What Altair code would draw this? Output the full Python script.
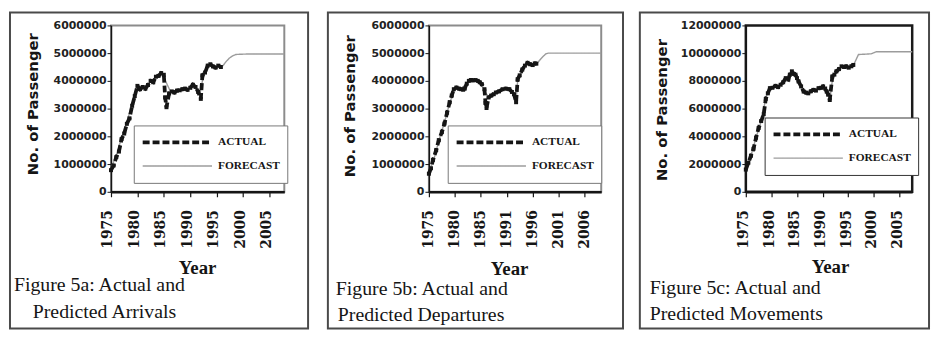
import json
import altair as alt
import pandas as pd

# ---------------- data (values in millions of passengers) ----------------
series_names = ["ACTUAL", "FORECAST"]

# Figure 5a - arrivals
arr_act_year = [1975.0, 1975.5, 1976.0, 1976.5, 1977.0, 1977.5, 1978.0, 1978.5, 1979.0, 1979.5,
                1980.0, 1980.5, 1981.0, 1981.5, 1982.0, 1982.5, 1983.0, 1983.5, 1984.0, 1984.5,
                1985.0, 1985.25, 1985.5,
                1986.0, 1986.5, 1987.0, 1987.5, 1988.0, 1988.5, 1989.0, 1989.5, 1990.0, 1990.5,
                1991.0, 1991.5, 1992.0,
                1992.3, 1992.8, 1993.3, 1993.8, 1994.3, 1994.8, 1995.3, 1995.8]
arr_act_mil = [0.78, 0.95, 1.25, 1.45, 1.9, 2.1, 2.45, 2.65, 3.1, 3.45,
               3.82, 3.7, 3.78, 3.72, 3.85, 4.0, 3.95, 4.15, 4.18, 4.28,
               4.22, 3.4, 3.05,
               3.55, 3.62, 3.58, 3.65, 3.66, 3.7, 3.72, 3.68, 3.75, 3.86,
               3.78, 3.6, 3.35,
               4.2, 4.3, 4.55, 4.6, 4.52, 4.48, 4.55, 4.5]
arr_fc_year = [1975.0, 1976.0, 1977.0, 1978.0, 1979.0, 1980.0, 1981.0, 1982.0, 1983.0, 1984.0,
               1984.6, 1985.3, 1986.3, 1987.0, 1988.0, 1989.0, 1990.0, 1991.0, 1991.8, 1992.5,
               1993.5, 1994.5, 1995.5, 1996.2, 1996.8, 1997.4, 1998.0, 1998.6, 1999.5, 2001.0,
               2007.8]
arr_fc_mil = [0.85, 1.3, 1.95, 2.5, 3.2, 3.75, 3.75, 3.9, 4.05, 4.2,
              4.3, 4.0, 3.6, 3.62, 3.67, 3.7, 3.74, 3.82, 3.5, 4.2,
              4.55, 4.5, 4.5, 4.55, 4.7, 4.82, 4.9, 4.95, 4.96, 4.97,
              4.97]

# Figure 5b - departures
dep_act_year = [1975.0, 1975.4, 1975.8, 1976.4, 1976.9, 1977.5, 1978.0, 1978.5, 1979.0, 1979.4,
                1979.8, 1980.3, 1980.8, 1981.2, 1981.6, 1981.9, 1982.3, 1982.7, 1983.1, 1983.5,
                1984.0, 1984.4, 1984.8, 1985.2, 1985.7, 1985.9, 1986.1, 1986.5, 1987.0, 1987.5,
                1987.9, 1988.5, 1989.2, 1989.8, 1990.5, 1991.0, 1991.4, 1991.8, 1992.1, 1992.5,
                1993.0, 1993.5, 1994.0, 1994.5, 1995.0, 1995.4, 1995.7]
dep_act_mil = [0.65, 0.85, 1.15, 1.5, 1.86, 2.15, 2.46, 2.85, 3.23, 3.47,
               3.7, 3.76, 3.72, 3.7, 3.68, 3.72, 3.9, 4.0, 4.03, 4.02,
               4.03, 4.0, 3.95, 3.88, 3.7, 3.2, 3.02, 3.4, 3.47, 3.52,
               3.58, 3.62, 3.7, 3.72, 3.7, 3.6, 3.52, 3.23, 4.06, 4.2,
               4.41, 4.55, 4.65, 4.6, 4.57, 4.63, 4.62]
dep_fc_year = [1975.0, 1976.0, 1977.0, 1978.0, 1979.0, 1980.0, 1981.0, 1982.0, 1983.0, 1984.0,
               1985.0, 1985.8, 1986.5, 1987.5, 1988.5, 1989.5, 1990.5, 1991.4, 1991.8, 1992.1,
               1993.0, 1994.0, 1995.0, 1995.8, 1996.5, 1997.0, 1997.5, 1998.0, 2008.2]
dep_fc_mil = [0.7, 1.2, 1.9, 2.5, 3.2, 3.72, 3.7, 3.85, 4.0, 4.0,
              3.9, 3.6, 3.42, 3.52, 3.62, 3.7, 3.7, 3.5, 3.3, 4.0,
              4.4, 4.62, 4.58, 4.62, 4.78, 4.88, 4.97, 5.0, 5.0]

# Figure 5c - movements
mov_act_year = [1975.0, 1975.5, 1976.0, 1976.5, 1977.0, 1977.5, 1978.0, 1978.5, 1978.9, 1979.3,
                1979.7, 1980.2, 1980.8, 1981.3, 1981.8, 1982.3, 1982.8, 1983.3, 1983.6, 1984.0,
                1984.4, 1984.7, 1985.0, 1985.3, 1985.8, 1986.3, 1986.8, 1987.2, 1987.7, 1988.2,
                1988.7, 1989.2, 1989.7, 1990.1, 1990.5, 1990.8, 1991.1, 1991.4, 1991.9, 1992.3,
                1992.7, 1993.2, 1993.7, 1994.2, 1994.6, 1995.1, 1995.6, 1996.0]
mov_act_mil = [1.6, 2.1, 2.6, 3.1, 3.9, 4.6, 5.1, 5.6, 6.7, 7.1,
               7.47, 7.5, 7.64, 7.55, 7.72, 7.9, 8.2, 8.1, 8.45, 8.69,
               8.5, 8.45, 8.2, 7.96, 7.6, 7.23, 7.15, 7.1, 7.25, 7.35,
               7.3, 7.47, 7.5, 7.6, 7.45, 7.23, 7.0, 6.62, 8.32, 8.45,
               8.69, 8.85, 9.05, 9.0, 9.05, 8.95, 9.05, 9.15]
mov_fc_year = [1975.0, 1976.0, 1977.0, 1978.0, 1979.0, 1980.0, 1981.0, 1982.0, 1983.0, 1984.0,
               1985.0, 1986.0, 1987.0, 1988.0, 1989.0, 1990.0, 1991.0, 1991.5, 1992.0, 1993.0,
               1994.0, 1995.0, 1996.0, 1996.5, 1997.0, 1999.5, 2000.5, 2007.5]
mov_fc_mil = [1.7, 2.6, 3.9, 5.1, 6.9, 7.5, 7.6, 7.85, 8.2, 8.6,
              8.2, 7.4, 7.12, 7.3, 7.45, 7.55, 7.0, 6.9, 8.3, 8.8,
              9.02, 9.0, 9.1, 9.5, 9.9, 9.95, 10.1, 10.1]

x_tick_values = [1975, 1980, 1985, 1990, 1995, 2000, 2005]
x_labels_a = ["1975", "1980", "1985", "1990", "1995", "2000", "2005"]
x_labels_b = ["1975", "1980", "1985", "1991", "1996", "2001", "2006"]
x_labels_c = ["1975", "1980", "1985", "1990", "1995", "2000", "2005"]
y_ticks_ab = [0, 1000000, 2000000, 3000000, 4000000, 5000000, 6000000]
y_ticks_c = [0, 2000000, 4000000, 6000000, 8000000, 10000000, 12000000]

caption_a = ["Figure 5a: Actual and", "Predicted Arrivals"]
caption_b = ["Figure 5b: Actual and", "Predicted Departures"]
caption_c = ["Figure 5c: Actual and", "Predicted Movements"]

INK = "#151515"
SERIF = "Liberation Serif"
one_row = pd.DataFrame({"k": [0]})


def panel(act_y, act_v, fc_y, fc_v, labels, y_ticks, y_max, x_max, width, height, s):
    df = pd.DataFrame({
        "Year": act_y + fc_y,
        "Passengers": [v * 1000000 for v in act_v + fc_v],
        "Series": ["ACTUAL"] * len(act_y) + ["FORECAST"] * len(fc_y),
    })
    label_expr = json.dumps(labels).replace('"', "'") + "[round((datum.value - 1975) / 5)]"
    x = alt.X("Year:Q",
              scale=alt.Scale(domain=[1975, x_max], nice=False, zero=False),
              axis=alt.Axis(values=x_tick_values, labelExpr=label_expr, labelAngle=-90,
                            labelFlush=False, labelOverlap=False, labelPadding=13,
                            labelOffset=s["lab_off"], labelFont="DejaVu Serif",
                            labelFontWeight="bold", labelFontSize=14, labelColor=INK,
                            tickSize=5, tickColor=INK, tickWidth=1.2,
                            domainColor=INK, domainWidth=2.5, grid=False,
                            title="Year", titleFont=SERIF, titleFontSize=19,
                            titleFontWeight="bold", titleColor=INK,
                            titleX=s["xt_x"], titleY=s["xt_y"], titleAlign="center",
                            titleBaseline="alphabetic"))
    y = alt.Y("Passengers:Q",
              scale=alt.Scale(domain=[0, y_max], nice=False),
              axis=alt.Axis(values=y_ticks, format="d", labelFont="DejaVu Sans",
                            labelFontWeight="bold", labelFontSize=11, labelColor="#222222",
                            labelPadding=1, labelFlush=False, labelOverlap=False,
                            tickSize=4, tickColor=INK, domainColor=INK, domainWidth=1.5,
                            grid=False, title="No. of Passenger", titleFont="DejaVu Sans",
                            titleFontSize=15, titleFontWeight="bold", titleColor=INK,
                            titleAngle=270, titleAlign="center", titleBaseline="middle",
                            titleX=s["yt_x"], titleY=s["yt_y"]))
    legend = alt.Legend(title=None, orient="none", legendX=s["lg_x"], legendY=s["lg_y"],
                        direction="vertical", symbolType="stroke", symbolSize=4900,
                        clipHeight=20, rowPadding=4, padding=7, labelOffset=4,
                        labelFont=SERIF, labelFontSize=11.5, labelFontWeight="bold",
                        labelColor=INK, strokeColor=s["lg_stroke"], fillColor="white")
    color = alt.Color("Series:N", scale=alt.Scale(domain=series_names, range=[INK, "#9c9c9c"]),
                      legend=legend)
    dash = alt.StrokeDash("Series:N", scale=alt.Scale(domain=series_names, range=[[7, 3], [1, 0]]),
                          legend=legend)
    sw = alt.StrokeWidth("Series:N", scale=alt.Scale(domain=series_names, range=[3.8, 1.4]),
                         legend=legend)

    base = alt.Chart(df)
    frame = alt.Chart(one_row).mark_rect(fillOpacity=0, stroke="#4a4a4a", strokeWidth=2).encode(
        x=alt.value(s["fr"][0]), x2=alt.value(s["fr"][1]),
        y=alt.value(s["fr"][2]), y2=alt.value(s["fr"][3]))
    fc_line = base.transform_filter(alt.datum.Series == "FORECAST").mark_line().encode(
        x=x, y=y, color=color, strokeDash=dash, strokeWidth=sw)
    act_line = base.transform_filter(alt.datum.Series == "ACTUAL").mark_line().encode(
        x=x, y=y, color=color, strokeDash=dash, strokeWidth=sw)
    act_pts = base.transform_filter(alt.datum.Series == "ACTUAL").mark_square(
        size=16, color=INK, opacity=1).encode(x=x, y=y)
    cap1 = alt.Chart(one_row).mark_text(align="left", baseline="alphabetic", font=SERIF,
                                        fontSize=20, color=INK).encode(
        x=alt.value(s["c1"][0]), y=alt.value(s["c1"][1]), text=alt.value(s["cap"][0]))
    cap2 = alt.Chart(one_row).mark_text(align="left", baseline="alphabetic", font=SERIF,
                                        fontSize=20, color=INK).encode(
        x=alt.value(s["c2"][0]), y=alt.value(s["c2"][1]), text=alt.value(s["cap"][1]))
    return alt.layer(frame, fc_line, act_line, act_pts, cap1, cap2).properties(
        width=width, height=height,
        view=alt.ViewBackground(stroke=s["view_stroke"], strokeWidth=s["view_sw"], fill="white"))


pa = panel(arr_act_year, arr_act_mil, arr_fc_year, arr_fc_mil, x_labels_a, y_ticks_ab, 6000000,
           2007.8, 175, 168,
           dict(lab_off=-3, xt_x=87, xt_y=83, yt_x=-79, yt_y=79, lg_x=23, lg_y=101,
                lg_stroke="#777777", fr=(-102, 199, -13, 306), c1=(-98, 268), c2=(-79, 295),
                cap=caption_a, view_stroke="#8c8c8c", view_sw=2))
pb = panel(dep_act_year, dep_act_mil, dep_fc_year, dep_fc_mil, x_labels_b, y_ticks_ab, 6000000,
           2008.2, 174, 168,
           dict(lab_off=0, xt_x=81, xt_y=84, yt_x=-80, yt_y=81, lg_x=19, lg_y=101,
                lg_stroke="#777777", fr=(-102, 196, -13, 306), c1=(-94, 272), c2=(-92, 298),
                cap=caption_b, view_stroke="#8c8c8c", view_sw=2))
pc = panel(mov_act_year, mov_act_mil, mov_fc_year, mov_fc_mil, x_labels_c, y_ticks_c, 12000000,
           2007.5, 168, 168,
           dict(lab_off=-2, xt_x=85, xt_y=81, yt_x=-85, yt_y=85, lg_x=19, lg_y=93,
                lg_stroke="#333333", fr=(-107, 185, -13, 306), c1=(-97, 271), c2=(-97, 297),
                cap=caption_c, view_stroke="#1a1a1a", view_sw=2.5))

chart = alt.hconcat(pa, pb, pc, spacing=146, bounds="flush").resolve_scale(
    color="independent", strokeDash="independent", strokeWidth="independent"
).resolve_legend(
    color="independent", strokeDash="independent", strokeWidth="independent"
).properties(
    padding={"left": 0, "top": 0, "right": 0, "bottom": 0}
).configure(background="white")

chart.save("out.html", embed_options={"renderer": "svg", "actions": False})
